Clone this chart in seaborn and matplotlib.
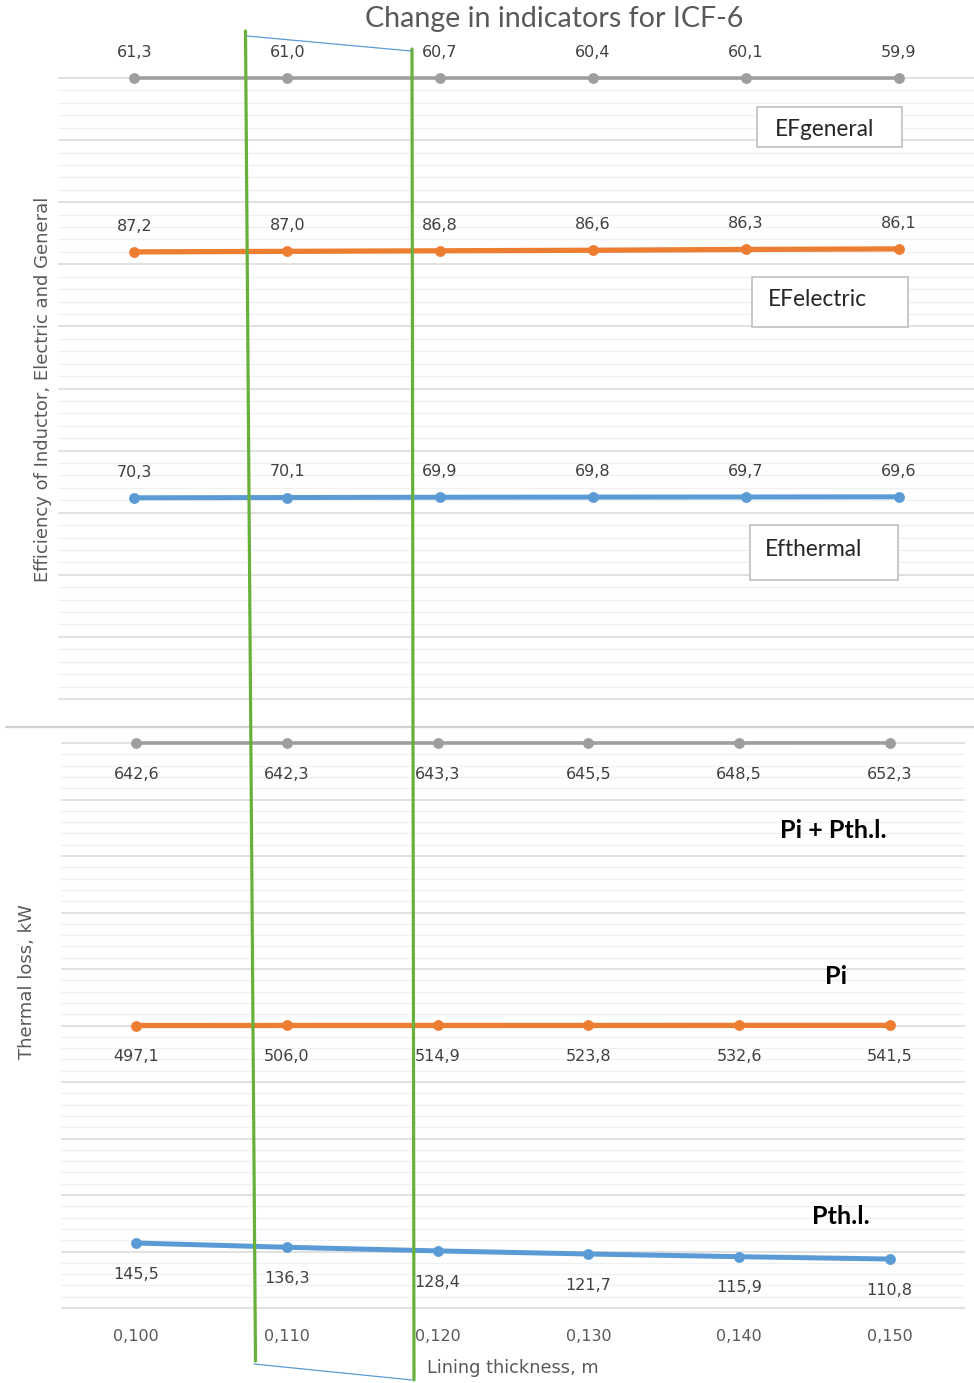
import numpy as np
import pandas as pd
import matplotlib
matplotlib.use("Agg")
import matplotlib.pyplot as plt
import seaborn as sns
from matplotlib.lines import Line2D
from matplotlib.patches import Rectangle

# Lining thickness (category labels) and indicator values
thickness = ["0,100", "0,110", "0,120", "0,130", "0,140", "0,150"]
ef_general = [61.3, 61.0, 60.7, 60.4, 60.1, 59.9]
ef_electric = [87.2, 87.0, 86.8, 86.6, 86.3, 86.1]
ef_thermal = [70.3, 70.1, 69.9, 69.8, 69.7, 69.6]
p_total = [642.6, 642.3, 643.3, 645.5, 648.5, 652.3]
p_inductor = [497.1, 506.0, 514.9, 523.8, 532.6, 541.5]
p_thermal_loss = [145.5, 136.3, 128.4, 121.7, 115.9, 110.8]

GRAY = "#A5A5A5"
ORANGE = "#ED7D31"
BLUE = "#5B9BD5"
GREEN = "#67B13B"
LABEL_C = "#404040"
AXIS_C = "#595959"

W, H, DPI = 974, 1383, 100
PAD = 4  # pixels of breathing room around the gridded area

sns.set_theme(style="white")
plt.rcParams["font.family"] = ["DejaVu Sans"]

fig = plt.figure(figsize=(W / DPI, H / DPI), dpi=DPI)


def fx(x):
    return x / W


def fy(y):
    return 1 - y / H


def panel(x0, y0, x1, y1):
    """Axes whose 10 major grid divisions span pixel rows y0..y1."""
    ax = fig.add_axes([fx(x0), fy(y1 + PAD), (x1 - x0) / W, (y1 - y0 + 2 * PAD) / H])
    unit = (y1 - y0) / 10.0
    ax.set_ylim(-PAD / unit, 10 + PAD / unit)
    ax.set_xlim(-0.5, 5.5)
    ax.set_yticks(np.arange(0, 10.01, 1))
    ax.set_yticks(np.arange(0, 10.01, 0.2), minor=True)
    ax.grid(which="major", axis="y", color="#D9D9D9", lw=1.1)
    ax.grid(which="minor", axis="y", color="#F0F0F0", lw=0.9)
    ax.grid(which="major", axis="x", visible=False)
    ax.tick_params(axis="both", which="both", length=0, labelleft=False)
    for s in ax.spines.values():
        s.set_visible(False)
    ax.set_xticks(range(len(thickness)))
    ax.set_xticklabels([])
    ax.patch.set_alpha(0)
    return ax


ax_top = panel(58, 78, 975, 699)
ax_bot = panel(61, 743, 965, 1308)

positions = list(range(len(thickness)))


def series(base, values, color, lw, level, span, label_dy, inverted=False):
    """Draw one series on its own y scale; `level` is its grid row (0..10)."""
    tw = base.twinx()
    df = pd.DataFrame({"pos": positions, "value": values})
    sns.lineplot(data=df, x="pos", y="value", ax=tw, color=color, lw=lw,
                 marker="o", markersize=7.8, markeredgewidth=0, clip_on=False)
    blo, bhi = base.get_ylim()
    f = (level - blo) / (bhi - blo)
    total = span * (bhi - blo) / 10.0
    v0 = values[0]
    if inverted:
        hi = v0 + f * total
        tw.set_ylim(hi, hi - total)
    else:
        lo = v0 - f * total
        tw.set_ylim(lo, lo + total)
    tw.set_axis_off()
    for p, v in zip(positions, values):
        tw.annotate(f"{v:.1f}".replace(".", ","), (p, v), xytext=(0, label_dy),
                    textcoords="offset points", ha="center", va="center",
                    fontsize=11.5, color=LABEL_C)
    return tw


# Efficiency panel
series(ax_top, ef_general, "#9E9E9E", 2.6, 10.0, 20000, 18.5)
series(ax_top, ef_electric, ORANGE, 3.8, 7.2, 230, 18.5, inverted=True)
series(ax_top, ef_thermal, BLUE, 3.6, 3.24, 450, 18.5, inverted=True)

# Thermal loss panel
series(ax_bot, p_total, "#9E9E9E", 2.6, 10.0, 200000, -22.5)
series(ax_bot, p_inductor, ORANGE, 3.8, 5.0, 200000, -22.5)
series(ax_bot, p_thermal_loss, BLUE, 3.6, 1.15, 1225, -22.5)

for ax in (ax_top, ax_bot):
    ax.set_xlim(-0.5, 5.5)

ax_bot.set_xticklabels(thickness)
ax_bot.tick_params(axis="x", labelbottom=True, labelsize=11.5, labelcolor=AXIS_C, pad=12)

# Titles
fig.text(fx(554), fy(19), "Change in indicators for ICF-6", ha="center", va="center",
         fontsize=20.6, color=AXIS_C, family=["Lato", "DejaVu Sans"])
fig.text(fx(43), fy(389), "Efficiency of Inductor, Electric and General", rotation=90,
         ha="center", va="center", fontsize=13, color=AXIS_C)
fig.text(fx(27), fy(982), "Thermal loss, kW", rotation=90,
         ha="center", va="center", fontsize=13, color=AXIS_C)
fig.text(fx(513), fy(1368), "Lining thickness, m", ha="center", va="center",
         fontsize=12.8, color=AXIS_C)

# Divider between the two panels
fig.add_artist(Line2D([fx(6), fx(974)], [fy(727), fy(727)], color="#D0D0D0", lw=1.6))

# Series name boxes
for (x0, y0, x1, y1, tx, ty, txt) in [
    (757, 107, 902, 147, 775, 130, "EFgeneral"),
    (752, 277, 908, 327, 768, 300, "EFelectric"),
    (750, 525, 898, 580, 765, 549, "Efthermal"),
]:
    fig.add_artist(Rectangle((fx(x0), fy(y1)), (x1 - x0) / W, (y1 - y0) / H,
                             transform=fig.transFigure, facecolor="white",
                             edgecolor="#BFBFBF", lw=1.2))
    fig.text(fx(tx), fy(ty), txt, ha="left", va="center", fontsize=16.3,
             color="#262626", family=["Lato", "DejaVu Sans"])

for (tx, ty, txt) in [(780, 831, "Pi + Pth.l."), (825, 977, "Pi"), (812, 1217, "Pth.l.")]:
    fig.text(fx(tx), fy(ty), txt, ha="left", va="center", fontsize=18.2,
             fontweight="bold", color="black", family=["Lato", "DejaVu Sans"])

# Highlighted range between 0,110 and 0,120
for (xa, ya, xb, yb) in [(245.5, 31, 255.5, 1361), (412, 49, 414, 1380)]:
    fig.add_artist(Line2D([fx(xa), fx(xb)], [fy(ya), fy(yb)], color=GREEN, lw=2.3))
for (xa, ya, xb, yb) in [(247, 36, 411, 51), (254, 1364, 412, 1380)]:
    fig.add_artist(Line2D([fx(xa), fx(xb)], [fy(ya), fy(yb)], color=BLUE, lw=0.9))

fig.savefig("out.png", dpi=DPI)
